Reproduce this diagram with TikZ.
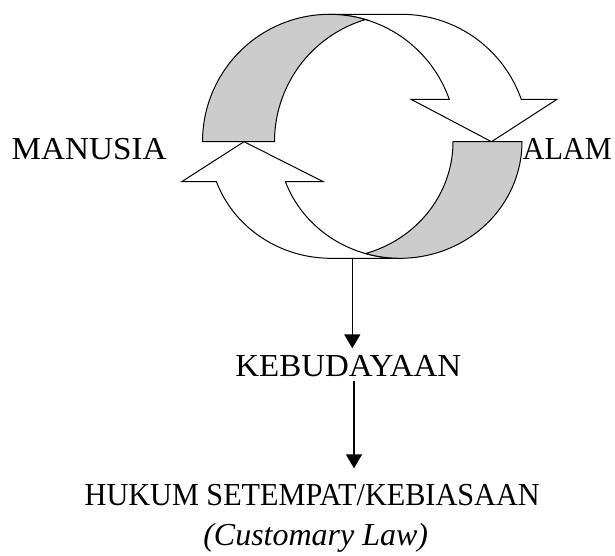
\documentclass[tikz,border=0pt]{standalone}
\usepackage{fontspec}
\setmainfont{Liberation Serif}
\usepackage{graphicx}
\usetikzlibrary{arrows.meta}
\begin{document}
\begin{tikzpicture}[x=1pt,y=-1pt,
  band/.style={draw=black, line width=1pt, line join=miter},
  front/.style={band, fill=white},
  back/.style={band, fill=black!20},
  lbl/.style={inner sep=0pt, font=\fontsize{32}{38}\selectfont, anchor=base},
  conn/.style={line width=1.5pt, -{Triangle[width=16pt,length=14pt]}}]
\useasboundingbox (0,0) rectangle (615,555);
% upper ribbon, front face
\path[front] (329.5,14.3) -- (401.5,14.3)
  -- plot[domain=270:340.56, samples=40] ({401.5+127*cos(\x)},{141.7+127.4*sin(\x)})
  -- (557,99.3) -- (491.5,141.7) -- (411,99.3)
  -- plot[domain=340.56:270, samples=40] ({329.5+127*cos(\x)},{141.7+127.4*sin(\x)})
  -- cycle;
% lower ribbon, front face
\path[front] plot[domain=90:159.94, samples=40] ({331+122*cos(\x)},{141.7+116.6*sin(\x)})
  -- (181.7,181.7) -- (244,141.7) -- (323.3,181.7)
  -- plot[domain=159.94:90, samples=40] ({400+122*cos(\x)},{141.7+116.6*sin(\x)})
  -- cycle;
% upper ribbon, back face
\path[back] plot[domain=180:286.47, samples=50] ({329.5+127*cos(\x)},{141.7+127.4*sin(\x)})
  -- plot[domain=253.53:180, samples=50] ({401.5+127*cos(\x)},{141.7+127.4*sin(\x)})
  -- cycle;
% lower ribbon, back face
\path[back] plot[domain=0:106.43, samples=50] ({400+122*cos(\x)},{141.7+116.6*sin(\x)})
  -- plot[domain=73.57:0, samples=50] ({331+122*cos(\x)},{141.7+116.6*sin(\x)})
  -- cycle;
\coordinate (bot) at (352.3,258.3);
% labels
\node[lbl] (manusia) at (89.2,159.3) {\scalebox{1.038}[1]{MANUSIA}};
\node[lbl] (alam) at (567.2,159.3) {\scalebox{0.945}[1]{ALAM}};
\node[lbl] (keb) at (348.3,376.7) {\scalebox{1.03}[1]{KEBUDAYAAN}};
\node[lbl] (hukum) at (312.2,505) {\scalebox{0.945}[1]{HUKUM SETEMPAT/KEBIASAAN}};
\node[lbl] (cust) at (315.7,545) {\itshape (Customary Law)};
% connectors
\draw[conn, shorten >=7pt] (bot) -- (bot |- keb.north);
\draw[conn, shorten <=3.3pt, shorten >=15.3pt] ([xshift=5.7pt]keb.south) -- ([xshift=5.7pt]keb.south |- hukum.north);
\end{tikzpicture}
\end{document}
